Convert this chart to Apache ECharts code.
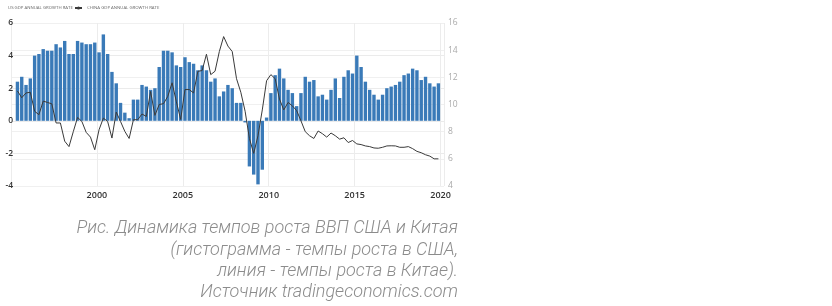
<!DOCTYPE html>
<html>
<head>
<meta charset="utf-8">
<script src="https://cdn.jsdelivr.net/npm/echarts@6/dist/echarts.min.js"></script>
<style>
html,body{margin:0;padding:0;background:#fff;}
#chart{width:832px;height:306px;}
</style>
</head>
<body>
<div id="chart"></div>
<script>
// Quarters shown: 1995Q2 .. 2019Q4
const startYear = 1995, startQuarter = 2, endYear = 2019;
const quarters = [];
for (let y = startYear; y <= endYear; y++) {
  for (let q = 1; q <= 4; q++) {
    if (y === startYear && q < startQuarter) continue;
    quarters.push(y + 'Q' + q);
  }
}

// US GDP annual growth rate (%), left axis
const usGrowth = [
  2.4, 2.7, 2.2,
  2.6, 4.0, 4.1, 4.4,
  4.3, 4.3, 4.7, 4.5,
  4.9, 4.1, 4.1, 4.9,
  4.8, 4.7, 4.7, 4.8,
  4.2, 5.3, 4.1, 3.0,
  2.3, 1.1, 0.5, 0.16,
  1.3, 1.3, 2.2, 2.1,
  1.9, 2.0, 3.3, 4.3,
  4.3, 4.2, 3.4, 3.3,
  3.9, 3.6, 3.5, 3.1,
  3.4, 3.1, 2.4, 2.6,
  1.5, 1.8, 2.2, 2.0,
  1.1, 1.1, -0.1, -2.8,
  -3.3, -3.9, -3.0, 0.2,
  1.7, 2.8, 3.2, 2.6,
  1.9, 1.7, 0.9, 1.7,
  2.7, 2.4, 2.5, 1.5,
  1.6, 1.3, 1.9, 2.6,
  1.4, 2.7, 3.1, 2.9,
  4.0, 3.3, 2.4, 1.9,
  1.6, 1.3, 1.6, 2.0,
  2.1, 2.2, 2.4, 2.8,
  2.9, 3.2, 3.1, 2.5,
  2.7, 2.3, 2.1, 2.3
];

// China GDP annual growth rate (%), right axis
const chinaGrowth = [
  11.0, 10.5, 10.85,
  10.9, 9.5, 9.25, 10.25,
  10.15, 10.05, 8.64, 8.64,
  7.3, 6.9, 8.0, 9.05,
  8.75, 7.95, 7.6, 6.67,
  8.14, 9.0, 8.75, 7.53,
  9.44, 8.75, 8.02, 7.5,
  8.88, 8.88, 9.3, 9.12,
  10.96, 9.2, 10.0, 10.06,
  10.6, 11.6, 10.2, 8.9,
  11.1, 11.1, 10.85, 12.44,
  12.5, 13.7, 12.2, 12.45,
  13.9, 15.0, 14.3, 13.9,
  11.9, 10.9, 9.5, 7.5,
  6.4, 7.7, 9.6, 11.75,
  12.2, 11.9, 10.4, 9.6,
  10.15, 9.9, 9.55, 8.8,
  8.0, 7.7, 7.5, 8.05,
  7.85, 7.6, 7.9, 7.7,
  7.45, 7.55, 7.2, 7.35,
  7.1, 7.05, 6.95, 6.9,
  6.8, 6.78, 6.85, 6.95,
  6.96, 6.95, 6.85, 6.85,
  6.9, 6.75, 6.55, 6.45,
  6.3, 6.2, 6.0, 6.0
];

const leftTicks = [-4, -2, 0, 2, 4, 6];
const rightTicks = [4, 6, 8, 10, 12, 14, 16];
const yearLabels = [2000, 2005, 2010, 2015, 2020];

const usName = 'US GDP ANNUAL GROWTH RATE';
const chinaName = 'CHINA GDP ANNUAL GROWTH RATE';
const captionLines = [
  'Рис. Динамика темпов роста ВВП США и Китая',
  '(гистограмма - темпы роста в США,',
  'линия - темпы роста в Китае).',
  'Источник tradingeconomics.com'
];

// x position of each quarter = middle of the quarter, in decimal years
function quarterX(label) {
  const y = parseInt(label.slice(0, 4), 10);
  const q = parseInt(label.slice(5), 10);
  return y + (q - 0.5) / 4;
}

const usData = quarters.map((q, i) => [quarterX(q), usGrowth[i]]);
const chinaData = quarters.map((q, i) => [quarterX(q), chinaGrowth[i]]);

const captionTops = [219, 241, 262, 283];

const chart = echarts.init(document.getElementById('chart'), null, {renderer: 'canvas'});
chart.setOption({
  animation: false,
  backgroundColor: '#ffffff',
  textStyle: {fontFamily: 'Open Sans'},
  legend: [
    {
      left: -2, top: 1,
      itemWidth: 0, itemHeight: 4,
      textStyle: {fontSize: 4.3, color: '#666', fontFamily: 'Open Sans'},
      data: [{name: usName, icon: 'rect', itemStyle: {opacity: 0}}]
    },
    {
      left: 69, top: 1,
      itemWidth: 7, itemHeight: 4,
      textStyle: {fontSize: 4.3, color: '#666', fontFamily: 'Open Sans'},
      data: [{name: chinaName}]
    }
  ],
  grid: {left: 11, right: 388, top: 23, bottom: 120, containLabel: false},
  xAxis: {
    type: 'value',
    min: 1995, max: 2020.2, interval: 5,
    axisLine: {show: false},
    axisTick: {show: false},
    splitLine: {show: true, lineStyle: {color: '#ececec', width: 1}},
    axisLabel: {
      margin: 5,
      fontSize: 9, color: '#333', fontWeight: 600,
      showMaxLabel: false,
      formatter: v => (yearLabels.indexOf(Math.round(v)) >= 0 && Math.abs(v - Math.round(v)) < 1e-6) ? String(Math.round(v)) : ''
    }
  },
  yAxis: [
    {
      type: 'value', min: leftTicks[0], max: leftTicks[leftTicks.length - 1], interval: 2,
      position: 'left',
      axisLine: {show: false}, axisTick: {show: false},
      splitLine: {show: true, lineStyle: {color: '#ebebeb'}},
      axisLabel: {margin: -2, fontSize: 8.5, color: '#333', fontWeight: 600}
    },
    {
      type: 'value', min: rightTicks[0], max: rightTicks[rightTicks.length - 1], interval: 2,
      position: 'right',
      axisLine: {show: false}, axisTick: {show: false},
      splitLine: {show: true, lineStyle: {color: '#f0f0f0'}},
      axisLabel: {margin: 4, fontSize: 8.5, color: '#aaaaaa'}
    }
  ],
  series: [
    {
      name: usName, type: 'bar', yAxisIndex: 0,
      data: usData, barWidth: 3.4,
      itemStyle: {color: '#3a7ab8'}
    },
    {
      name: chinaName, type: 'line', yAxisIndex: 1,
      data: chinaData, showSymbol: false, symbol: 'none',
      lineStyle: {color: '#3a3a3a', width: 1},
      itemStyle: {color: '#3a3a3a'}
    }
  ],
  graphic: captionLines.map((line, k) => ({
    type: 'text', right: 374, top: captionTops[k],
    style: {
      text: line,
      font: 'italic 300 18px Roboto',
      fill: '#8c8c8c'
    }
  }))
});
</script>
</body>
</html>
